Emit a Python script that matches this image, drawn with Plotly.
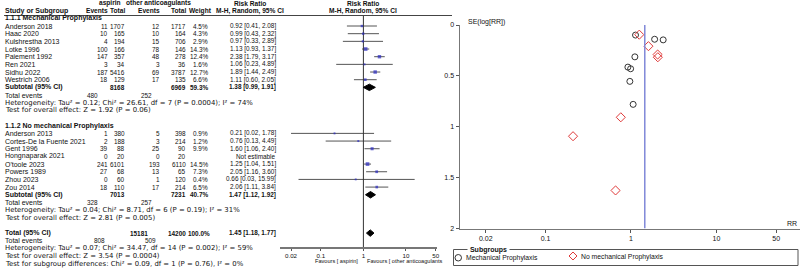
import plotly.graph_objects as go

W, H = 800, 268
FONT = "Liberation Sans, Arial, sans-serif"
FONT_WIDE = "DejaVu Sans, Verdana, sans-serif"

# ---------------- data ----------------
studies_mech = ["Anderson 2018", "Haac 2020", "Kulshrestha 2013", "Lotke 1996",
                "Paiement 1992", "Ren 2021", "Sidhu 2022", "Westrich 2006"]
asp_ev_mech = [11, 10, 4, 100, 147, 3, 187, 18]
asp_tot_mech = [1707, 165, 194, 166, 357, 34, 5416, 129]
oth_ev_mech = [12, 10, 15, 78, 48, 3, 69, 17]
oth_tot_mech = [1717, 164, 706, 146, 278, 36, 3787, 135]
weight_mech = [4.5, 4.3, 2.9, 14.3, 12.4, 1.6, 12.7, 6.6]
rr_mech = [0.92, 0.99, 0.97, 1.13, 2.38, 1.06, 1.89, 1.11]
lo_mech = [0.41, 0.43, 0.33, 0.93, 1.79, 0.23, 1.44, 0.60]
hi_mech = [2.08, 2.32, 2.89, 1.37, 3.17, 4.89, 2.49, 2.05]
se_mech = [0.414, 0.430, 0.554, 0.099, 0.146, 0.780, 0.140, 0.313]

studies_nomech = ["Anderson 2013", "Cortes-De la Fuente 2021", "Gent 1996", "Hongnaparak 2021",
                  "O'toole 2023", "Powers 1989", "Zhou 2023", "Zou 2014"]
asp_ev_nomech = [1, 2, 39, 0, 241, 27, 0, 18]
asp_tot_nomech = [380, 188, 88, 20, 6101, 68, 60, 110]
oth_ev_nomech = [5, 3, 25, 0, 193, 13, 1, 17]
oth_tot_nomech = [398, 214, 90, 20, 6110, 65, 120, 214]
weight_nomech = [0.9, 1.2, 9.9, None, 14.5, 7.3, 0.4, 6.5]
rr_nomech = [0.21, 0.76, 1.60, None, 1.25, 2.05, 0.66, 2.06]
lo_nomech = [0.02, 0.13, 1.06, None, 1.04, 1.16, 0.03, 1.11]
hi_nomech = [1.78, 4.49, 2.40, None, 1.51, 3.60, 15.99, 3.84]
se_nomech = [1.093, 0.907, 0.208, None, 0.095, 0.290, 1.626, 0.317]

sub_mech = dict(asp_tot=8168, oth_tot=6969, weight=59.3, rr=1.38, lo=0.99, hi=1.91,
                asp_ev=480, oth_ev=252,
                het="Heterogeneity: Tau² = 0.12; Chi² = 26.61, df = 7 (P = 0.0004); I² = 74%",
                test="Test for overall effect: Z = 1.92 (P = 0.06)")
sub_nomech = dict(asp_tot=7013, oth_tot=7231, weight=40.7, rr=1.47, lo=1.12, hi=1.92,
                  asp_ev=328, oth_ev=257,
                  het="Heterogeneity: Tau² = 0.04; Chi² = 8.71, df = 6 (P = 0.19); I² = 31%",
                  test="Test for overall effect: Z = 2.81 (P = 0.005)")
overall = dict(asp_tot=15181, oth_tot=14200, weight=100.0, rr=1.45, lo=1.18, hi=1.77,
               asp_ev=808, oth_ev=509,
               het="Heterogeneity: Tau² = 0.07; Chi² = 34.47, df = 14 (P = 0.002); I² = 59%",
               test="Test for overall effect: Z = 3.54 (P = 0.0004)",
               subgroup="Test for subgroup differences: Chi² = 0.09, df = 1 (P = 0.76), I² = 0%")

forest_ticks = [0.02, 0.1, 1, 10, 50]
forest_ticktext = ["0.02", "0.1", "1", "10", "50"]
funnel_xticks = [0.02, 0.1, 1, 10, 50]
funnel_xticktext = ["0.02", "0.1", "1", "10", "50"]
funnel_yticks = [0, 0.5, 1, 1.5, 2]
funnel_yticktext = ["0", "0.5", "1", "1.5", "2"]

# ---------------- layout helpers ----------------
def px(x):
    return x / W

def py(y):
    return 1 - y / H

ROW_H = 7.67
ROW0 = 3.0
row_top = -ROW0 / ROW_H
row_bot = (H - ROW0) / ROW_H

# column anchors (pixels)
C_NAME = 4
C_AEV = 109
C_ATOT = 126
C_OEV = 161
C_OTOT = 187
C_W = 209
C_CI = 277
C_CIH = 250
C_FH = 363

FS = 7.0       # names / labels
FS_NUM = 6.4   # numbers
FS_SMALL = 6.9 # heterogeneity / tests (wider face)
FS_HEAD = 6.6

annotations = []

def txt(x, row, s, anchor="left", bold=False, size=FS, color="#111", family=FONT):
    annotations.append(dict(
        x=px(x), xref="paper", y=row, yref="y", text=("<b>%s</b>" % s) if bold else s,
        showarrow=False, xanchor=anchor, yanchor="middle", borderpad=0,
        font=dict(family=family, size=size, color=color)))

def ptxt(x, y, s, anchor="left", bold=False, size=FS, color="#111", bg=None):
    d = dict(x=px(x), xref="paper", y=py(y), yref="paper", text=("<b>%s</b>" % s) if bold else s,
             showarrow=False, xanchor=anchor, yanchor="middle", borderpad=0,
             font=dict(family=FONT, size=size, color=color))
    if bg:
        d["bgcolor"] = bg
    annotations.append(d)

def fmt_ci(r, l, h):
    return "%.2f [%.2f, %.2f]" % (r, l, h)

# headers
txt(110, 0, "aspirin", "center", bold=True, size=FS_HEAD)
txt(158, 0, "other anticoagulants", "center", bold=True, size=FS_HEAD)
txt(C_CIH, 0, "Risk Ratio", "center", bold=True, size=FS_HEAD)
txt(C_FH, 0, "Risk Ratio", "center", bold=True, size=FS_HEAD)
txt(C_NAME, 1, "Study or Subgroup", bold=True, size=7.0)
txt(C_AEV, 1, "Events", "right", bold=True, size=FS_HEAD)
txt(C_ATOT, 1, "Total", "right", bold=True, size=FS_HEAD)
txt(C_OEV, 1, "Events", "right", bold=True, size=FS_HEAD)
txt(C_OTOT, 1, "Total", "right", bold=True, size=FS_HEAD)
txt(C_W + 4, 1, "Weight", "right", bold=True, size=FS_HEAD)
txt(C_CIH, 1, "M-H, Random, 95% CI", "center", bold=True, size=FS_HEAD)
txt(C_FH, 1, "M-H, Random, 95% CI", "center", bold=True, size=FS_HEAD)

forest_lines_x, forest_lines_y = [], []
sq_x, sq_y, sq_s = [], [], []
diamonds = []

def study_block(start_row, title, names, aev, atot, oev, otot, wts, rr, lo, hi, sub):
    txt(C_NAME, start_row, title, bold=True)
    r = start_row + 1
    for i, n in enumerate(names):
        txt(C_NAME, r, n)
        txt(C_AEV, r, str(aev[i]), "right", size=FS_NUM)
        txt(C_ATOT, r, str(atot[i]), "right", size=FS_NUM)
        txt(C_OEV, r, str(oev[i]), "right", size=FS_NUM)
        txt(C_OTOT, r, str(otot[i]), "right", size=FS_NUM)
        if rr[i] is None:
            txt(C_CI, r, "Not estimable", "right", size=FS_NUM)
        else:
            txt(C_W, r, "%.1f%%" % wts[i], "right", size=FS_NUM)
            txt(C_CI, r, fmt_ci(rr[i], lo[i], hi[i]), "right", size=FS_NUM)
            forest_lines_x.extend([lo[i], hi[i], None])
            forest_lines_y.extend([r, r, None])
            sq_x.append(rr[i]); sq_y.append(r); sq_s.append(1.8 + wts[i] * 0.13)
        r += 1
    txt(C_NAME, r, "Subtotal (95% CI)", bold=True)
    txt(C_ATOT, r, str(sub["asp_tot"]), "right", bold=True, size=FS_NUM)
    txt(C_OTOT, r, str(sub["oth_tot"]), "right", bold=True, size=FS_NUM)
    txt(C_W, r, "%.1f%%" % sub["weight"], "right", bold=True, size=FS_NUM)
    txt(C_CI, r, fmt_ci(sub["rr"], sub["lo"], sub["hi"]), "right", bold=True, size=FS_NUM)
    diamonds.append((r, sub["rr"], sub["lo"], sub["hi"]))
    txt(C_NAME, r + 1, "Total events")
    txt(99, r + 1, str(sub["asp_ev"]), "right", size=FS_NUM)
    txt(153, r + 1, str(sub["oth_ev"]), "right", size=FS_NUM)
    txt(C_NAME, r + 2, sub["het"], size=FS_SMALL, family=FONT_WIDE)
    txt(C_NAME, r + 3, sub["test"], size=FS_SMALL, family=FONT_WIDE)

study_block(2, "1.1.1 Mechanical Prophylaxis", studies_mech, asp_ev_mech, asp_tot_mech,
            oth_ev_mech, oth_tot_mech, weight_mech, rr_mech, lo_mech, hi_mech, sub_mech)
study_block(16, "1.1.2 No mechanical Prophylaxis", studies_nomech, asp_ev_nomech, asp_tot_nomech,
            oth_ev_nomech, oth_tot_nomech, weight_nomech, rr_nomech, lo_nomech, hi_nomech, sub_nomech)

R = 30
txt(C_NAME, R, "Total (95% CI)", bold=True)
txt(149, R, str(overall["asp_tot"]), "right", bold=True, size=FS_NUM)
txt(C_OTOT, R, str(overall["oth_tot"]), "right", bold=True, size=FS_NUM)
txt(C_W + 2, R, "%.1f%%" % overall["weight"], "right", bold=True, size=FS_NUM)
txt(C_CI, R, fmt_ci(overall["rr"], overall["lo"], overall["hi"]), "right", bold=True, size=FS_NUM)
diamonds.append((R, overall["rr"], overall["lo"], overall["hi"]))
txt(C_NAME, R + 1, "Total events")
txt(106, R + 1, str(overall["asp_ev"]), "right", size=FS_NUM)
txt(157, R + 1, str(overall["oth_ev"]), "right", size=FS_NUM)
txt(C_NAME, R + 2, overall["het"], size=FS_SMALL, family=FONT_WIDE)
txt(C_NAME, R + 3, overall["test"], size=FS_SMALL, family=FONT_WIDE)
txt(C_NAME, R + 4, overall["subgroup"], size=FS_SMALL, family=FONT_WIDE)

# favours labels
ptxt(359, 260.5, "Favours [ aspirin]", "right", size=5.6)
ptxt(366, 260.5, "Favours [ other anticoagulants", "left", size=5.6)

fig = go.Figure()

# CI lines
fig.add_trace(go.Scatter(x=forest_lines_x, y=forest_lines_y, mode="lines",
                         line=dict(color="#555555", width=1), xaxis="x", yaxis="y",
                         hoverinfo="skip", showlegend=False))
# null line
fig.add_trace(go.Scatter(x=[1, 1], y=[1.63, (247 - ROW0) / ROW_H], mode="lines",
                         line=dict(color="#333333", width=1), xaxis="x", yaxis="y",
                         hoverinfo="skip", showlegend=False))
# squares
fig.add_trace(go.Scatter(x=sq_x, y=sq_y, mode="markers",
                         marker=dict(symbol="square", size=sq_s, color="#2a2ac0", line=dict(width=0)),
                         xaxis="x", yaxis="y", showlegend=False))
# diamonds
for (r, est, lo, hi) in diamonds:
    h = 0.42
    fig.add_trace(go.Scatter(x=[lo, est, hi, est, lo], y=[r, r - h, r, r + h, r], mode="lines",
                             fill="toself", fillcolor="#000000", line=dict(color="#000000", width=1),
                             xaxis="x", yaxis="y", hoverinfo="skip", showlegend=False))

# funnel plot points
fig.add_trace(go.Scatter(x=rr_mech, y=se_mech, mode="markers", xaxis="x2", yaxis="y2",
                         marker=dict(symbol="circle-open", size=6, color="#333333", line=dict(width=1)),
                         name="Mechanical Prophylaxis", showlegend=False))
nx = [v for v in rr_nomech if v is not None]
ny = [v for v in se_nomech if v is not None]
fig.add_trace(go.Scatter(x=nx, y=ny, mode="markers", xaxis="x2", yaxis="y2",
                         marker=dict(symbol="diamond-open", size=7, color="#e03a3a", line=dict(width=1)),
                         name="No mechanical Prophylaxis", showlegend=False))
# pooled estimate line
fig.add_trace(go.Scatter(x=[overall["rr"], overall["rr"]], y=[0, 2], mode="lines", xaxis="x2", yaxis="y2",
                         line=dict(color="#8088d8", width=1.5), hoverinfo="skip", showlegend=False))

shapes = [
    # header underline
    dict(type="line", xref="paper", yref="paper", x0=px(4), x1=px(452), y0=py(15.5), y1=py(15.5),
         line=dict(color="#444", width=1)),
    # legend box
    dict(type="rect", xref="paper", yref="paper", x0=px(453.5), x1=px(798), y0=py(249.5), y1=py(265.5),
         line=dict(color="#555", width=1)),
    dict(type="circle", xref="paper", yref="paper", x0=px(455), x1=px(461.5), y0=py(254.5), y1=py(261),
         line=dict(color="#333", width=1)),
    dict(type="path", xref="paper", yref="paper",
         path="M %f,%f L %f,%f L %f,%f L %f,%f Z" % (px(573), py(252), px(577), py(256),
                                                   px(573), py(260), px(569), py(256)),
         line=dict(color="#e03a3a", width=1)),
]

ptxt(467, 249.5, " Subgroups ", "left", bold=True, size=7, bg="white")
ptxt(465, 258, "Mechanical Prophylaxis", "left", size=6.8)
ptxt(580, 257, "No mechanical Prophylaxis", "left", size=6.8)
ptxt(467, 22, "SE(log[RR])", "left", size=7)
ptxt(786, 223, "RR", "left", size=7)

axis_font = dict(family=FONT, size=6.2, color="#111")
fig.update_layout(
    width=W, height=H, margin=dict(l=0, r=0, t=0, b=0),
    paper_bgcolor="white", plot_bgcolor="white",
    showlegend=False,
    xaxis=dict(type="log", range=[-1.958, 1.728], domain=[px(280), px(437)], anchor="free",
               position=py(247), showline=True, linecolor="#777", linewidth=1.5,
               tickvals=forest_ticks, ticktext=forest_ticktext, ticks="outside", ticklen=2,
               tickcolor="#555", tickfont=axis_font, showgrid=False, zeroline=False, automargin=False),
    yaxis=dict(range=[row_bot, row_top], domain=[0, 1], visible=False, showgrid=False,
               zeroline=False, automargin=False),
    xaxis2=dict(type="log", range=[-2, 1.977], domain=[px(460), 1.0], anchor="y2",
                showline=True, linecolor="#777", linewidth=1.5,
                tickvals=funnel_xticks, ticktext=funnel_xticktext,
                ticks="outside", ticklen=3, tickcolor="#555", tickfont=dict(family=FONT, size=7, color="#111"),
                showgrid=False, zeroline=False, automargin=False),
    yaxis2=dict(range=[2, 0], domain=[py(228.5), py(25)], anchor="x2",
                showline=True, linecolor="#777", linewidth=1.5,
                tickvals=funnel_yticks, ticktext=funnel_yticktext, ticks="outside", ticklen=3,
                tickcolor="#555", tickfont=dict(family=FONT, size=7, color="#111"),
                showgrid=False, zeroline=False, automargin=False),
    annotations=annotations,
    shapes=shapes,
)

fig.write_html("out.html", config={"displayModeBar": False, "staticPlot": True},
               post_script="document.body.style.margin='0px';document.body.style.overflow='hidden';")
